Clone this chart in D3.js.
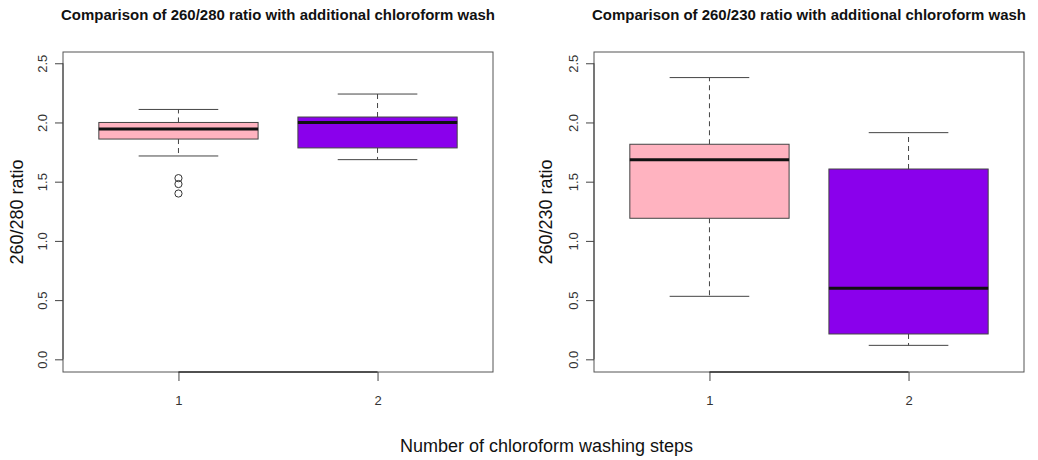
<!DOCTYPE html>
<html>
<head>
<meta charset="utf-8">
<script src="https://cdn.jsdelivr.net/npm/d3@7"></script>
<style>
  body { margin: 0; background: #fff; }
  text { font-family: "Liberation Sans", Arial, sans-serif; }
</style>
</head>
<body>
<svg id="main_svg" width="1038" height="460"></svg>
<script>
// groups on the x axis
let categories = ["1", "2"]
let y_ticks = [0, 0.5, 1.0, 1.5, 2.0, 2.5]

// box stats: [lower whisker, q1, median, q3, upper whisker]
let ratio280_g1 = [1.717, 1.86, 1.945, 2.0, 2.11]
let ratio280_g2 = [1.686, 1.785, 2.0, 2.046, 2.24]
let ratio280_out = [[1.53, 1.48, 1.40], []]

let ratio230_g1 = [0.532, 1.191, 1.686, 1.816, 2.379]
let ratio230_g2 = [0.118, 0.214, 0.60, 1.607, 1.914]
let ratio230_out = [[], []]

let colors = ["#ffb3c0", "#8a00ec"]

let titles = ["Comparison of 260/280 ratio with additional chloroform wash",
              "Comparison of 260/230 ratio with additional chloroform wash"]
let ylabels = ["260/280 ratio", "260/230 ratio"]
let xlabel = "Number of chloroform washing steps"

let svg = d3.select("#main_svg")
let line_col = "#444"

function draw_panel(left, right, stats, outliers, title, ylab, ylab_x){
    let top = 52
    let bottom = 372
    // R style: xlim 0.5..2.5 plus 4% on each side
    let x = d3.scaleLinear().domain([0.42, 2.58]).range([left, right])
    let y = d3.scaleLinear().domain([-0.107, 2.595]).range([bottom, top])

    let g = svg.append("g")

    // boxes
    stats.forEach(function(s, i){
        let cx = x(i + 1)
        let bw = x(1.4) - x(1)
        let cw = x(1.2) - x(1)
        // whiskers
        g.append("line")
            .attr("x1", cx).attr("x2", cx)
            .attr("y1", y(s[3])).attr("y2", y(s[4]))
            .attr("stroke", line_col).attr("stroke-dasharray", "5,4")
        g.append("line")
            .attr("x1", cx).attr("x2", cx)
            .attr("y1", y(s[1])).attr("y2", y(s[0]))
            .attr("stroke", line_col).attr("stroke-dasharray", "5,4")
        g.append("line")
            .attr("x1", cx - cw).attr("x2", cx + cw)
            .attr("y1", y(s[4])).attr("y2", y(s[4]))
            .attr("stroke", line_col)
        g.append("line")
            .attr("x1", cx - cw).attr("x2", cx + cw)
            .attr("y1", y(s[0])).attr("y2", y(s[0]))
            .attr("stroke", line_col)
        g.append("rect")
            .attr("x", cx - bw)
            .attr("y", y(s[3]))
            .attr("width", 2 * bw)
            .attr("height", y(s[1]) - y(s[3]))
            .attr("fill", colors[i])
            .attr("stroke", line_col)
        g.append("line")
            .attr("x1", cx - bw).attr("x2", cx + bw)
            .attr("y1", y(s[2])).attr("y2", y(s[2]))
            .attr("stroke", "#111").attr("stroke-width", 3)
        g.selectAll(null)
            .data(outliers[i])
            .enter()
            .append("circle")
            .attr("cx", cx)
            .attr("cy", d => y(d))
            .attr("r", 3.6)
            .attr("fill", "none")
            .attr("stroke", "#333")
    })

    // frame
    g.append("rect")
        .attr("x", left).attr("y", top)
        .attr("width", right - left).attr("height", bottom - top)
        .attr("fill", "none").attr("stroke", "#555")

    // y axis
    let ya = g.append("g")
        .attr("transform", "translate(" + left + ",0)")
        .call(d3.axisLeft(y).tickValues(y_ticks).tickSize(8).tickSizeOuter(0)
            .tickFormat(d3.format(".1f")))
    ya.select(".domain").remove()
    ya.selectAll(".tick line").attr("stroke", line_col)
    ya.selectAll(".tick text")
        .attr("transform", "rotate(-90)")
        .attr("x", 0)
        .attr("y", -21)
        .attr("dy", "0.35em")
        .attr("text-anchor", "middle")
        .attr("fill", "#333")
        .style("font-size", "13px")
    ya.append("line")
        .attr("x1", 0).attr("x2", 0)
        .attr("y1", y(0)).attr("y2", y(2.5))
        .attr("stroke", line_col)

    // x axis
    let xa = g.append("g")
        .attr("transform", "translate(0," + bottom + ")")
        .call(d3.axisBottom(x).tickValues([1, 2]).tickSize(9).tickSizeOuter(0)
            .tickFormat((d, i) => categories[i]))
    xa.select(".domain").remove()
    xa.selectAll(".tick line").attr("stroke", line_col)
    xa.selectAll(".tick text")
        .attr("y", 24)
        .attr("fill", "#333")
        .style("font-size", "13px")
    xa.append("line")
        .attr("x1", x(1)).attr("x2", x(2))
        .attr("y1", 0).attr("y2", 0)
        .attr("stroke", "#333").attr("stroke-width", 1.5)

    // title
    g.append("text")
        .attr("x", (left + right) / 2)
        .attr("y", 20)
        .attr("text-anchor", "middle")
        .attr("textLength", 434)
        .attr("lengthAdjust", "spacingAndGlyphs")
        .style("font-size", "15px")
        .style("font-weight", "bold")
        .attr("fill", "#111")
        .text(title)

    // y label
    g.append("text")
        .attr("transform", "translate(" + ylab_x + "," + ((top + bottom) / 2) + ") rotate(-90)")
        .attr("text-anchor", "middle")
        .attr("dy", "0.35em")
        .style("font-size", "18px")
        .attr("fill", "#111")
        .text(ylab)
}

draw_panel(63, 493, [ratio280_g1, ratio280_g2], ratio280_out, titles[0], ylabels[0], 17)
draw_panel(594, 1024, [ratio230_g1, ratio230_g2], ratio230_out, titles[1], ylabels[1], 546)

svg.append("text")
    .attr("x", 546.5)
    .attr("y", 452)
    .attr("text-anchor", "middle")
    .style("font-size", "18px")
    .attr("fill", "#111")
    .text(xlabel)
</script>
</body>
</html>
